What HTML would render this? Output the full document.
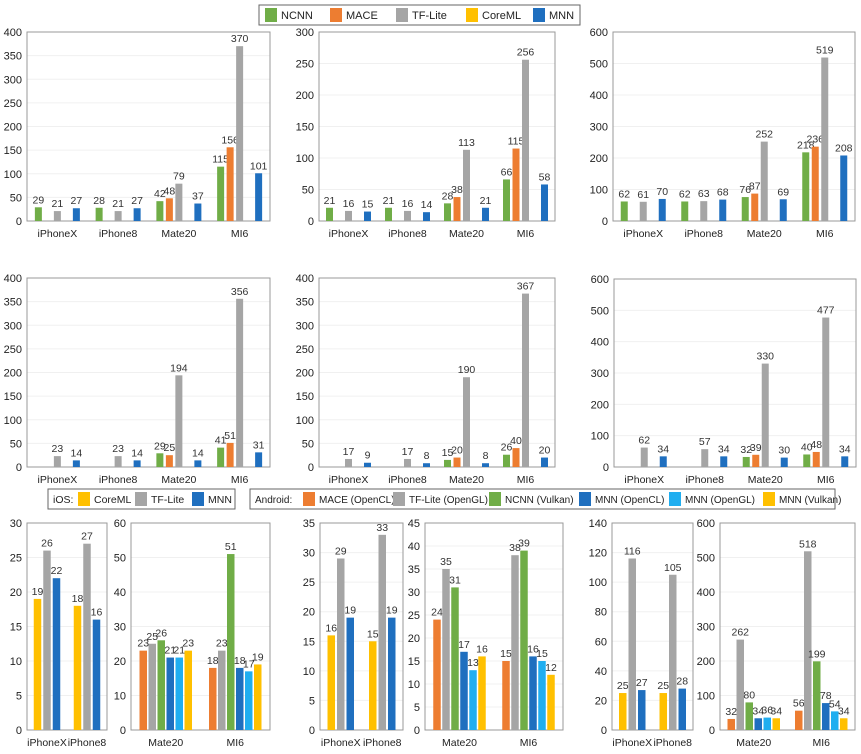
<!DOCTYPE html>
<html><head><meta charset="utf-8">
<style>
body{margin:0;background:#fff;width:861px;height:754px;overflow:hidden;font-family:"Liberation Sans",sans-serif}
svg{position:absolute;left:0;top:0}
</style></head><body>
<svg id="c" width="861" height="754" font-family="Liberation Sans, sans-serif"></svg>
<script>
const C={NCNN:'#70ad47',MACE:'#ed7d31',TF:'#a5a5a5',CoreML:'#ffc000',MNN:'#1f6fbf',MNNGL:'#20aef0'};
const topCats=['iPhoneX','iPhone8','Mate20','MI6'];
const topSeries=['NCNN','MACE','TF','CoreML','MNN'];
// rows: [NCNN, MACE, TF, CoreML, MNN] per device
const p1=[[29,null,21,null,27],[28,null,21,null,27],[42,48,79,null,37],[115,156,370,null,101]];
const p2=[[21,null,16,null,15],[21,null,16,null,14],[28,38,113,null,21],[66,115,256,null,58]];
const p3=[[62,null,61,null,70],[62,null,63,null,68],[76,87,252,null,69],[218,236,519,null,208]];
const p4=[[null,null,23,null,14],[null,null,23,null,14],[29,25,194,null,14],[41,51,356,null,31]];
const p5=[[null,null,17,null,9],[null,null,17,null,8],[15,20,190,null,8],[26,40,367,null,20]];
const p6=[[null,null,62,null,34],[null,null,57,null,34],[32,39,330,null,30],[40,48,477,null,34]];
const iosCats=['iPhoneX','iPhone8'];
const andCats=['Mate20','MI6'];
const iosSeries=['CoreML','TF','MNN'];
const andSeries=['MACE','TF','NCNN','MNN','MNNGL','CoreML'];
const b1=[[19,26,22],[18,27,16]];
const b2=[[23,25,26,21,21,23],[18,23,51,18,17,19]];
const b3=[[16,29,19],[15,33,19]];
const b4=[[24,35,31,17,13,16],[15,38,39,16,15,12]];
const b5=[[25,116,27],[25,105,28]];
const b6=[[32,262,80,34,36,34],[56,518,199,78,54,34]];

const svg=document.getElementById('c');
const NS='http://www.w3.org/2000/svg';
function el(t,a,p){const e=document.createElementNS(NS,t);for(const k in a)e.setAttribute(k,a[k]);(p||svg).appendChild(e);return e;}
function txt(s,a,p){const e=el('text',a,p);e.textContent=s;return e;}

function panel(name,x0,x1,y0,y1,max,step,cats,series,data,slot,bw){
  const g=el('g',{});
  
  
  const y=v=>y1-(v/max)*(y1-y0);
  for(let v=0;v<=max+1e-9;v+=step){
    if(v>0){const gl=el('line',{x1:x0,x2:x1,y1:y(v),y2:y(v),stroke:'#f0f0f0','stroke-width':1},g);
      }
    const t=txt(String(v),{x:x0-5,y:y(v)+4,'text-anchor':'end','font-size':11,fill:'#222'},g);
    
  }
  const fr=el('rect',{x:x0,y:y0,width:x1-x0,height:y1-y0,fill:'none',stroke:'#999','stroke-width':1},g);
  
  const gw=(x1-x0)/cats.length;
  cats.forEach((c,i)=>{
    const cx=x0+gw*(i+0.5);
    const t=txt(c,{x:cx,y:y1+16,'text-anchor':'middle','font-size':10.5,fill:'#222'},g);
    
    const n=series.length;
    data[i].forEach((v,j)=>{
      if(v==null)return;
      const bx=cx+(j-(n-1)/2)*slot-bw/2;
      const r=el('rect',{x:bx,y:y(v),width:bw,height:y1-y(v),fill:C[series[j]]},g);
      
      
      const l=txt(String(v),{x:bx+bw/2,y:y(v)-4,'text-anchor':'middle','font-size':10.5,fill:'#333'},g);
      
    });
  });
}
panel('panel-top-1',27,270,32,221,400,50,topCats,topSeries,p1,9.5,7);
panel('panel-top-2',319,555,32,221,300,50,topCats,topSeries,p2,9.5,7);
panel('panel-top-3',613,855,32,221,600,100,topCats,topSeries,p3,9.5,7);
panel('panel-mid-1',27,270,278,467,400,50,topCats,topSeries,p4,9.5,7);
panel('panel-mid-2',319,555,278,467,400,50,topCats,topSeries,p5,9.5,7);
panel('panel-mid-3',614,856,279,467,600,100,topCats,topSeries,p6,9.5,7);
panel('panel-bot-1',27,107,523,730,30,5,iosCats,iosSeries,b1,9.5,7.5);
panel('panel-bot-2',131,270,523,730,60,10,andCats,andSeries,b2,9,7.5);
panel('panel-bot-3',320,403,523,730,35,5,iosCats,iosSeries,b3,9.5,7.5);
panel('panel-bot-4',425,563,523,730,45,5,andCats,andSeries,b4,9,7.5);
panel('panel-bot-5',612,693,523,730,140,20,iosCats,iosSeries,b5,9.5,7.5);
panel('panel-bot-6',720,855,523,730,600,100,andCats,andSeries,b6,9,7.5);

function legend(name,x,y,w,h,items,prefix,px,fs){
  const g=el('g',{});
  
  
  el('rect',{x:x,y:y,width:w,height:h,fill:'#fff',stroke:'#666','stroke-width':1},g);
  if(prefix){txt(prefix,{x:px,y:y+h/2+4,'font-size':fs,fill:'#222'},g);}
  items.forEach(([lab,col,sx])=>{
    const s=el('rect',{x:sx,y:y+3,width:12,height:h-6,fill:col},g);
    
    const t=txt(lab,{x:sx+16,y:y+h/2+4,'font-size':fs,fill:'#222'},g);
    
  });
}
legend('legend-top',259,5,321,20,[['NCNN',C.NCNN,265],['MACE',C.MACE,330],['TF-Lite',C.TF,396],['CoreML',C.CoreML,466],['MNN',C.MNN,533]],null,0,11);
legend('legend-ios',48,489,187,20,[['CoreML',C.CoreML,78],['TF-Lite',C.TF,135],['MNN',C.MNN,192]],'iOS:',53,10.5);
legend('legend-android',250,489,585,20,[['MACE (OpenCL)',C.MACE,303],['TF-Lite (OpenGL)',C.TF,393],['NCNN (Vulkan)',C.NCNN,489],['MNN (OpenCL)',C.MNN,579],['MNN (OpenGL)',C.MNNGL,669],['MNN (Vulkan)',C.CoreML,763]],'Android:',255,10);
</script>
</body></html>
